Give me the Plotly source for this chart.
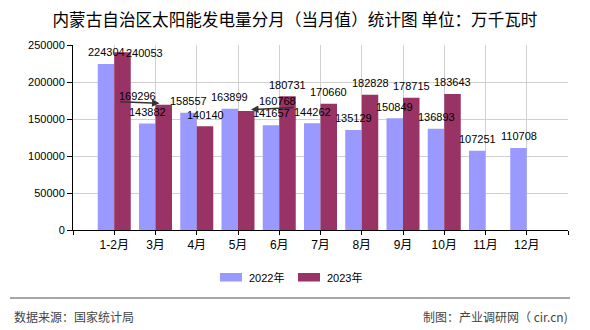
import plotly.graph_objects as go

# ---- data ----
categories = ["1-2月", "3月", "4月", "5月", "6月", "7月", "8月", "9月", "10月", "11月", "12月"]
values_2022 = [224304, 143882, 158557, 163899, 141657, 144262, 135129, 150849, 136893, 107251, 110708]
values_2023 = [240053, 169296, 140140, 160768, 180731, 170660, 182828, 178715, 183643, None, None]
series_names = ["2022年", "2023年"]
y_ticks = [0, 50000, 100000, 150000, 200000, 250000]

title_text = "内蒙古自治区太阳能发电量分月（当月值）统计图 单位：万千瓦时"
source_text = "数据来源：国家统计局"
maker_text = "制图：产业调研网（ cir.cn)"

# ---- style / layout constants ----
W, H = 590, 330
ML, MR, MT, MB = 73, 22, 45, 100
PW, PH = W - ML - MR, H - MT - MB
C22, C23 = "#9999FF", "#993366"
GRID = "#d0d0d0"
NUMFONT = "Liberation Sans, Arial, sans-serif"
CJK = "Noto Sans CJK SC, sans-serif"
MIX = "Liberation Sans, Noto Sans CJK SC, sans-serif"

def px(xp):
    return (xp - ML) / PW

def py(yp):
    return (H - MB - yp) / PH

# label offsets (pixels) for labels moved off their default spot: (series, index) -> (dx, dy)
label_moves = {(1, 0): (21.5, -12.7), (1, 1): (-25.8, -2.8), (1, 3): (30.8, -1.5)}
# leader arrows: (series, index) -> (tip offset in category units, ax, ay)
leaders = {(1, 1): (-0.103, -41, -1.5), (1, 3): (0.115, 44, -2)}

fig = go.Figure()
xs = list(range(len(categories)))
fig.add_trace(go.Bar(x=xs, y=values_2022, name=series_names[0], marker_color=C22,
                     marker_line_width=0, showlegend=False))
fig.add_trace(go.Bar(x=xs, y=values_2023, name=series_names[1], marker_color=C23,
                     marker_line_width=0, showlegend=False))

annotations = []
for s, (vals, dx) in enumerate([(values_2022, -0.2), (values_2023, 0.2)]):
    for i, v in enumerate(vals):
        if v is None:
            continue
        mx, my = label_moves.get((s, i), (0, 0))
        annotations.append(dict(x=i + dx, y=v, xref="x", yref="y", text=str(v),
                                showarrow=False, xanchor="center", yanchor="middle",
                                xshift=mx, yshift=11.7 + my,
                                font=dict(family=NUMFONT, size=11, color="#000")))
        if (s, i) in leaders:
            tdx, ax, ay = leaders[(s, i)]
            annotations.append(dict(x=i + dx + tdx, y=v, xref="x", yref="y", text="",
                                    showarrow=True, ax=ax, ay=ay, arrowhead=2,
                                    arrowsize=1, arrowwidth=1.5, arrowcolor="#333",
                                    standoff=0, yshift=1.5))

# custom legend
shapes = []
legend_items = [(220, 247, C22, series_names[0]), (298, 325, C23, series_names[1])]
for x0, tx, col, name in legend_items:
    shapes.append(dict(type="rect", xref="paper", yref="paper", x0=px(x0), x1=px(x0 + 22),
                       y0=py(281.5), y1=py(273), fillcolor=col, line_width=0))
    annotations.append(dict(x=px(tx), y=py(277.5), xref="paper", yref="paper", text=name,
                            showarrow=False, xanchor="left", yanchor="middle",
                            font=dict(family=MIX, size=11, color="#000")))

# footer
shapes.append(dict(type="line", xref="paper", yref="paper", x0=px(10), x1=px(570),
                   y0=py(298), y1=py(298), line=dict(color="#888", width=1.5)))
annotations.append(dict(x=px(12), y=py(316.5), xref="paper", yref="paper", text=source_text,
                        showarrow=False, xanchor="left", yanchor="middle",
                        font=dict(family=CJK, size=12, color="#444")))
annotations.append(dict(x=px(570), y=py(316.5), xref="paper", yref="paper", text=maker_text,
                        showarrow=False, xanchor="right", yanchor="middle",
                        font=dict(family=CJK, size=12, color="#444")))

fig.update_layout(
    width=W, height=H, margin=dict(l=ML, r=MR, t=MT, b=MB, pad=0),
    paper_bgcolor="white", plot_bgcolor="white",
    barmode="group", bargap=0.2, bargroupgap=0,
    title=dict(text=title_text, x=0.5, xanchor="center", y=1 - 20 / H, yanchor="middle",
               font=dict(family=CJK, size=16.6, color="#000")),
    xaxis=dict(range=[-1, len(categories)], tickmode="array",
               tickvals=list(range(-1, len(categories) + 1)),
               ticktext=[""] + categories + [""],
               showgrid=True, gridcolor=GRID, gridwidth=1, zeroline=False,
               showline=True, linecolor="#000", linewidth=1,
               ticks="outside", ticklen=4, tickcolor="#000",
               tickfont=dict(family=MIX, size=12, color="#000")),
    yaxis=dict(range=[0, 250000], tickmode="array", tickvals=y_ticks,
               ticktext=[str(t) for t in y_ticks],
               showgrid=True, gridcolor=GRID, gridwidth=1, zeroline=False,
               showline=True, linecolor="#000", linewidth=1,
               ticks="outside", ticklen=5, tickcolor="#000",
               tickfont=dict(family=NUMFONT, size=11, color="#000")),
    annotations=annotations, shapes=shapes, showlegend=False,
)

fig.write_html("out.html")
